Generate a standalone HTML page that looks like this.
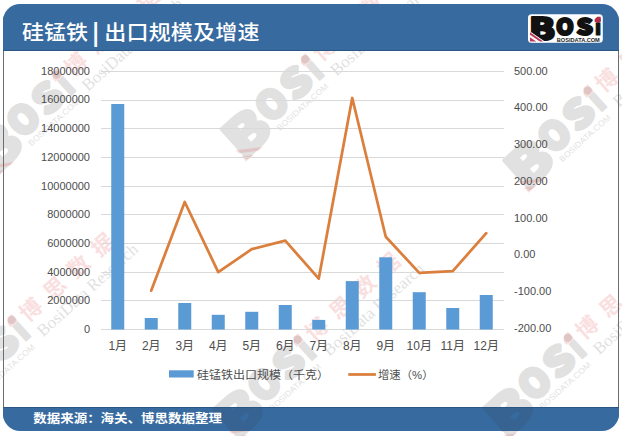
<!DOCTYPE html>
<html lang="zh-CN">
<head>
<meta charset="utf-8">
<title>硅锰铁 | 出口规模及增速</title>
<style>
html,body{margin:0;padding:0;background:#fff;}
body{width:622px;height:436px;overflow:hidden;position:relative;}
svg{position:absolute;left:0;top:0;display:block;}
</style>
</head>
<body>
<svg width="622" height="436" viewBox="0 0 622 436">
  <defs>
    <clipPath id="fr"><rect x="3" y="4" width="616" height="427" rx="17" ry="17"/></clipPath>
    <clipPath id="bands"><rect x="4" y="408" width="614" height="23"/></clipPath>
  </defs>
  <rect x="0" y="0" width="622" height="436" fill="#fff"/>
  <!-- watermarks -->
  <g transform="translate(56 75) rotate(-42)">
    <g transform="scale(1.65) translate(-597.6 -19.35)">
      <g opacity="0.23" fill="#808080">
        <g font-family="Noto Sans CJK SC Black, Noto Sans CJK SC, sans-serif" font-weight="900" fill="#808080" stroke="#808080" stroke-width="2.2" stroke-linejoin="round">
      <text x="529" y="40" font-size="31" textLength="26" lengthAdjust="spacingAndGlyphs">B</text>
      <text x="556" y="34.5" font-size="23" textLength="17.8" lengthAdjust="spacingAndGlyphs">O</text>
      <text x="576.5" y="34.5" font-size="23" textLength="16.5" lengthAdjust="spacingAndGlyphs">S</text>
      <text x="594.8" y="34.5" font-size="20.5" stroke-width="1">i</text>
    </g>
        <text x="557.5" y="41.5" font-family="Liberation Sans, sans-serif" font-size="5" textLength="40" lengthAdjust="spacingAndGlyphs">BOSIDATA.COM</text>
      </g>
      <g opacity="0.16" fill="#e03c3c">
        <polygon points="597.3,16.7 600.6,16.7 600.6,22.2 594.7,22.2 594.7,19.6"/>
        <polygon points="530,32.3 543.3,41.5 539.9,41.5 530,34.7"/>
        <polygon points="530,37.2 536.3,41.5 530,41.5"/>
      </g>
    </g>
    <g transform="scale(1.5) translate(-597.6 -19.35)">
      <text x="606" y="42" opacity="0.23" fill="#808080" font-family="Liberation Serif, serif" font-size="11.3">BosiData Research</text>
      <text x="605" y="28" opacity="0.16" fill="#e03c3c" font-family="Liberation Sans, Noto Sans CJK SC, sans-serif" font-weight="bold" font-size="14.5" letter-spacing="7">博思数据</text>
    </g>
  </g>
  <g transform="translate(304.5 59.8) rotate(-42)">
    <g transform="scale(1.65) translate(-597.6 -19.35)">
      <g opacity="0.23" fill="#808080">
        <g font-family="Noto Sans CJK SC Black, Noto Sans CJK SC, sans-serif" font-weight="900" fill="#808080" stroke="#808080" stroke-width="2.2" stroke-linejoin="round">
      <text x="529" y="40" font-size="31" textLength="26" lengthAdjust="spacingAndGlyphs">B</text>
      <text x="556" y="34.5" font-size="23" textLength="17.8" lengthAdjust="spacingAndGlyphs">O</text>
      <text x="576.5" y="34.5" font-size="23" textLength="16.5" lengthAdjust="spacingAndGlyphs">S</text>
      <text x="594.8" y="34.5" font-size="20.5" stroke-width="1">i</text>
    </g>
        <text x="557.5" y="41.5" font-family="Liberation Sans, sans-serif" font-size="5" textLength="40" lengthAdjust="spacingAndGlyphs">BOSIDATA.COM</text>
      </g>
      <g opacity="0.16" fill="#e03c3c">
        <polygon points="597.3,16.7 600.6,16.7 600.6,22.2 594.7,22.2 594.7,19.6"/>
        <polygon points="530,32.3 543.3,41.5 539.9,41.5 530,34.7"/>
        <polygon points="530,37.2 536.3,41.5 530,41.5"/>
      </g>
    </g>
    <g transform="scale(1.5) translate(-597.6 -19.35)">
      <text x="606" y="42" opacity="0.23" fill="#808080" font-family="Liberation Serif, serif" font-size="11.3">BosiData Research</text>
      <text x="605" y="28" opacity="0.16" fill="#e03c3c" font-family="Liberation Sans, Noto Sans CJK SC, sans-serif" font-weight="bold" font-size="14.5" letter-spacing="7">博思数据</text>
    </g>
  </g>
  <g transform="translate(587 91) rotate(-42)">
    <g transform="scale(1.65) translate(-597.6 -19.35)">
      <g opacity="0.23" fill="#808080">
        <g font-family="Noto Sans CJK SC Black, Noto Sans CJK SC, sans-serif" font-weight="900" fill="#808080" stroke="#808080" stroke-width="2.2" stroke-linejoin="round">
      <text x="529" y="40" font-size="31" textLength="26" lengthAdjust="spacingAndGlyphs">B</text>
      <text x="556" y="34.5" font-size="23" textLength="17.8" lengthAdjust="spacingAndGlyphs">O</text>
      <text x="576.5" y="34.5" font-size="23" textLength="16.5" lengthAdjust="spacingAndGlyphs">S</text>
      <text x="594.8" y="34.5" font-size="20.5" stroke-width="1">i</text>
    </g>
        <text x="557.5" y="41.5" font-family="Liberation Sans, sans-serif" font-size="5" textLength="40" lengthAdjust="spacingAndGlyphs">BOSIDATA.COM</text>
      </g>
      <g opacity="0.16" fill="#e03c3c">
        <polygon points="597.3,16.7 600.6,16.7 600.6,22.2 594.7,22.2 594.7,19.6"/>
        <polygon points="530,32.3 543.3,41.5 539.9,41.5 530,34.7"/>
        <polygon points="530,37.2 536.3,41.5 530,41.5"/>
      </g>
    </g>
    <g transform="scale(1.5) translate(-597.6 -19.35)">
      <text x="606" y="42" opacity="0.23" fill="#808080" font-family="Liberation Serif, serif" font-size="11.3">BosiData Research</text>
      <text x="605" y="28" opacity="0.16" fill="#e03c3c" font-family="Liberation Sans, Noto Sans CJK SC, sans-serif" font-weight="bold" font-size="14.5" letter-spacing="7">博思数据</text>
    </g>
  </g>
  <g transform="translate(11 320.5) rotate(-42)">
    <g transform="scale(1.65) translate(-597.6 -19.35)">
      <g opacity="0.23" fill="#808080">
        <g font-family="Noto Sans CJK SC Black, Noto Sans CJK SC, sans-serif" font-weight="900" fill="#808080" stroke="#808080" stroke-width="2.2" stroke-linejoin="round">
      <text x="529" y="40" font-size="31" textLength="26" lengthAdjust="spacingAndGlyphs">B</text>
      <text x="556" y="34.5" font-size="23" textLength="17.8" lengthAdjust="spacingAndGlyphs">O</text>
      <text x="576.5" y="34.5" font-size="23" textLength="16.5" lengthAdjust="spacingAndGlyphs">S</text>
      <text x="594.8" y="34.5" font-size="20.5" stroke-width="1">i</text>
    </g>
        <text x="557.5" y="41.5" font-family="Liberation Sans, sans-serif" font-size="5" textLength="40" lengthAdjust="spacingAndGlyphs">BOSIDATA.COM</text>
      </g>
      <g opacity="0.16" fill="#e03c3c">
        <polygon points="597.3,16.7 600.6,16.7 600.6,22.2 594.7,22.2 594.7,19.6"/>
        <polygon points="530,32.3 543.3,41.5 539.9,41.5 530,34.7"/>
        <polygon points="530,37.2 536.3,41.5 530,41.5"/>
      </g>
    </g>
    <g transform="scale(1.5) translate(-597.6 -19.35)">
      <text x="606" y="42" opacity="0.23" fill="#808080" font-family="Liberation Serif, serif" font-size="11.3">BosiData Research</text>
      <text x="605" y="28" opacity="0.16" fill="#e03c3c" font-family="Liberation Sans, Noto Sans CJK SC, sans-serif" font-weight="bold" font-size="14.5" letter-spacing="7">博思数据</text>
    </g>
  </g>
  <g transform="translate(297 340) rotate(-42)">
    <g transform="scale(1.65) translate(-597.6 -19.35)">
      <g opacity="0.23" fill="#808080">
        <g font-family="Noto Sans CJK SC Black, Noto Sans CJK SC, sans-serif" font-weight="900" fill="#808080" stroke="#808080" stroke-width="2.2" stroke-linejoin="round">
      <text x="529" y="40" font-size="31" textLength="26" lengthAdjust="spacingAndGlyphs">B</text>
      <text x="556" y="34.5" font-size="23" textLength="17.8" lengthAdjust="spacingAndGlyphs">O</text>
      <text x="576.5" y="34.5" font-size="23" textLength="16.5" lengthAdjust="spacingAndGlyphs">S</text>
      <text x="594.8" y="34.5" font-size="20.5" stroke-width="1">i</text>
    </g>
        <text x="557.5" y="41.5" font-family="Liberation Sans, sans-serif" font-size="5" textLength="40" lengthAdjust="spacingAndGlyphs">BOSIDATA.COM</text>
      </g>
      <g opacity="0.16" fill="#e03c3c">
        <polygon points="597.3,16.7 600.6,16.7 600.6,22.2 594.7,22.2 594.7,19.6"/>
        <polygon points="530,32.3 543.3,41.5 539.9,41.5 530,34.7"/>
        <polygon points="530,37.2 536.3,41.5 530,41.5"/>
      </g>
    </g>
    <g transform="scale(1.5) translate(-597.6 -19.35)">
      <text x="606" y="42" opacity="0.23" fill="#808080" font-family="Liberation Serif, serif" font-size="11.3">BosiData Research</text>
      <text x="605" y="28" opacity="0.16" fill="#e03c3c" font-family="Liberation Sans, Noto Sans CJK SC, sans-serif" font-weight="bold" font-size="14.5" letter-spacing="7">博思数据</text>
    </g>
  </g>
  <g transform="translate(567.2 338.4) rotate(-42)">
    <g transform="scale(1.65) translate(-597.6 -19.35)">
      <g opacity="0.23" fill="#808080">
        <g font-family="Noto Sans CJK SC Black, Noto Sans CJK SC, sans-serif" font-weight="900" fill="#808080" stroke="#808080" stroke-width="2.2" stroke-linejoin="round">
      <text x="529" y="40" font-size="31" textLength="26" lengthAdjust="spacingAndGlyphs">B</text>
      <text x="556" y="34.5" font-size="23" textLength="17.8" lengthAdjust="spacingAndGlyphs">O</text>
      <text x="576.5" y="34.5" font-size="23" textLength="16.5" lengthAdjust="spacingAndGlyphs">S</text>
      <text x="594.8" y="34.5" font-size="20.5" stroke-width="1">i</text>
    </g>
        <text x="557.5" y="41.5" font-family="Liberation Sans, sans-serif" font-size="5" textLength="40" lengthAdjust="spacingAndGlyphs">BOSIDATA.COM</text>
      </g>
      <g opacity="0.16" fill="#e03c3c">
        <polygon points="597.3,16.7 600.6,16.7 600.6,22.2 594.7,22.2 594.7,19.6"/>
        <polygon points="530,32.3 543.3,41.5 539.9,41.5 530,34.7"/>
        <polygon points="530,37.2 536.3,41.5 530,41.5"/>
      </g>
    </g>
    <g transform="scale(1.5) translate(-597.6 -19.35)">
      <text x="606" y="42" opacity="0.23" fill="#808080" font-family="Liberation Serif, serif" font-size="11.3">BosiData Research</text>
      <text x="605" y="28" opacity="0.16" fill="#e03c3c" font-family="Liberation Sans, Noto Sans CJK SC, sans-serif" font-weight="bold" font-size="14.5" letter-spacing="7">博思数据</text>
    </g>
  </g>
  <!-- header / footer -->
  <g clip-path="url(#fr)">
    <rect x="3" y="4" width="1" height="427" fill="#6b6e70"/>
    <rect x="618" y="4" width="1" height="427" fill="#6b6e70"/>
    <rect x="3" y="4" width="616" height="47" fill="#376a9e"/>
    <rect x="3" y="50" width="616" height="1" fill="#2b5683"/>
    <rect x="3" y="407" width="616" height="24" fill="#376a9e"/>
    <rect x="3" y="407" width="616" height="1" fill="#2b5683"/>
  </g>
  <g clip-path="url(#bands)">
  <g transform="translate(56 75) rotate(-42) scale(1.65) translate(-597.6 -19.35)" opacity="0.1" fill="#303030">
    <g font-family="Noto Sans CJK SC Black, Noto Sans CJK SC, sans-serif" font-weight="900" fill="#303030" stroke="#303030" stroke-width="2.2" stroke-linejoin="round">
      <text x="529" y="40" font-size="31" textLength="26" lengthAdjust="spacingAndGlyphs">B</text>
      <text x="556" y="34.5" font-size="23" textLength="17.8" lengthAdjust="spacingAndGlyphs">O</text>
      <text x="576.5" y="34.5" font-size="23" textLength="16.5" lengthAdjust="spacingAndGlyphs">S</text>
      <text x="594.8" y="34.5" font-size="20.5" stroke-width="1">i</text>
    </g>
  </g>
  <g transform="translate(304.5 59.8) rotate(-42) scale(1.65) translate(-597.6 -19.35)" opacity="0.1" fill="#303030">
    <g font-family="Noto Sans CJK SC Black, Noto Sans CJK SC, sans-serif" font-weight="900" fill="#303030" stroke="#303030" stroke-width="2.2" stroke-linejoin="round">
      <text x="529" y="40" font-size="31" textLength="26" lengthAdjust="spacingAndGlyphs">B</text>
      <text x="556" y="34.5" font-size="23" textLength="17.8" lengthAdjust="spacingAndGlyphs">O</text>
      <text x="576.5" y="34.5" font-size="23" textLength="16.5" lengthAdjust="spacingAndGlyphs">S</text>
      <text x="594.8" y="34.5" font-size="20.5" stroke-width="1">i</text>
    </g>
  </g>
  <g transform="translate(587 91) rotate(-42) scale(1.65) translate(-597.6 -19.35)" opacity="0.1" fill="#303030">
    <g font-family="Noto Sans CJK SC Black, Noto Sans CJK SC, sans-serif" font-weight="900" fill="#303030" stroke="#303030" stroke-width="2.2" stroke-linejoin="round">
      <text x="529" y="40" font-size="31" textLength="26" lengthAdjust="spacingAndGlyphs">B</text>
      <text x="556" y="34.5" font-size="23" textLength="17.8" lengthAdjust="spacingAndGlyphs">O</text>
      <text x="576.5" y="34.5" font-size="23" textLength="16.5" lengthAdjust="spacingAndGlyphs">S</text>
      <text x="594.8" y="34.5" font-size="20.5" stroke-width="1">i</text>
    </g>
  </g>
  <g transform="translate(11 320.5) rotate(-42) scale(1.65) translate(-597.6 -19.35)" opacity="0.1" fill="#303030">
    <g font-family="Noto Sans CJK SC Black, Noto Sans CJK SC, sans-serif" font-weight="900" fill="#303030" stroke="#303030" stroke-width="2.2" stroke-linejoin="round">
      <text x="529" y="40" font-size="31" textLength="26" lengthAdjust="spacingAndGlyphs">B</text>
      <text x="556" y="34.5" font-size="23" textLength="17.8" lengthAdjust="spacingAndGlyphs">O</text>
      <text x="576.5" y="34.5" font-size="23" textLength="16.5" lengthAdjust="spacingAndGlyphs">S</text>
      <text x="594.8" y="34.5" font-size="20.5" stroke-width="1">i</text>
    </g>
  </g>
  <g transform="translate(297 340) rotate(-42) scale(1.65) translate(-597.6 -19.35)" opacity="0.1" fill="#303030">
    <g font-family="Noto Sans CJK SC Black, Noto Sans CJK SC, sans-serif" font-weight="900" fill="#303030" stroke="#303030" stroke-width="2.2" stroke-linejoin="round">
      <text x="529" y="40" font-size="31" textLength="26" lengthAdjust="spacingAndGlyphs">B</text>
      <text x="556" y="34.5" font-size="23" textLength="17.8" lengthAdjust="spacingAndGlyphs">O</text>
      <text x="576.5" y="34.5" font-size="23" textLength="16.5" lengthAdjust="spacingAndGlyphs">S</text>
      <text x="594.8" y="34.5" font-size="20.5" stroke-width="1">i</text>
    </g>
  </g>
  <g transform="translate(567.2 338.4) rotate(-42) scale(1.65) translate(-597.6 -19.35)" opacity="0.1" fill="#303030">
    <g font-family="Noto Sans CJK SC Black, Noto Sans CJK SC, sans-serif" font-weight="900" fill="#303030" stroke="#303030" stroke-width="2.2" stroke-linejoin="round">
      <text x="529" y="40" font-size="31" textLength="26" lengthAdjust="spacingAndGlyphs">B</text>
      <text x="556" y="34.5" font-size="23" textLength="17.8" lengthAdjust="spacingAndGlyphs">O</text>
      <text x="576.5" y="34.5" font-size="23" textLength="16.5" lengthAdjust="spacingAndGlyphs">S</text>
      <text x="594.8" y="34.5" font-size="20.5" stroke-width="1">i</text>
    </g>
  </g>
  </g>
  <g font-family="Liberation Sans, Noto Sans CJK SC, sans-serif" font-size="22" font-weight="500" fill="#fff" transform="translate(0 40) scale(1 0.92) translate(0 -40)">
    <text x="22" y="40">硅锰铁</text>
    <text x="104.3" y="40" letter-spacing="0.2">出口规模及增速</text>
  </g>
  <text x="91.3" y="41.1" font-family="DejaVu Sans, sans-serif" font-weight="bold" font-size="24" fill="#fff">|</text>
  <text x="33.2" y="423" font-family="Liberation Sans, Noto Sans CJK SC, sans-serif" font-size="13.5" font-weight="bold" fill="#fff" transform="translate(0 423) scale(1 0.9) translate(0 -423)">数据来源：海关、博思数据整理</text>
  <!-- logo -->
  <rect x="528" y="14.2" width="74.8" height="28.6" rx="3.5" fill="#fff"/>
  <g font-family="Noto Sans CJK SC Black, Noto Sans CJK SC, sans-serif" font-weight="900" fill="#111" stroke="#111" stroke-width="2.2" stroke-linejoin="round">
      <text x="529" y="40" font-size="31" textLength="26" lengthAdjust="spacingAndGlyphs">B</text>
      <text x="556" y="34.5" font-size="23" textLength="17.8" lengthAdjust="spacingAndGlyphs">O</text>
      <text x="576.5" y="34.5" font-size="23" textLength="16.5" lengthAdjust="spacingAndGlyphs">S</text>
      <text x="594.8" y="34.5" font-size="20.5" stroke-width="1">i</text>
    </g>
  <polygon points="597.3,16.7 600.6,16.7 600.6,22.2 594.7,22.2 594.7,19.6" fill="#b52b44"/>
  <polygon points="529.5,30.9 546,42.3 529.5,42.3" fill="#fff"/>
  <polygon points="530,32.3 543.3,41.5 539.9,41.5 530,34.7" fill="#c0395a"/>
  <polygon points="530,37.2 536.3,41.5 530,41.5" fill="#c0395a"/>
  <text x="556.8" y="41.5" font-family="Liberation Sans, sans-serif" font-weight="bold" font-size="5.6" fill="#222" textLength="43" lengthAdjust="spacingAndGlyphs">BOSIDATA.COM</text>
  <g fill="#d9d9d9">
    <rect x="101" y="71" width="403" height="1"/>
    <rect x="101" y="100" width="403" height="1"/>
    <rect x="101" y="128" width="403" height="1"/>
    <rect x="101" y="157" width="403" height="1"/>
    <rect x="101" y="186" width="403" height="1"/>
    <rect x="101" y="214" width="403" height="1"/>
    <rect x="101" y="243" width="403" height="1"/>
    <rect x="101" y="272" width="403" height="1"/>
    <rect x="101" y="300" width="403" height="1"/>
    <rect x="101" y="329" width="403" height="1"/>
  </g>
  <g fill="#5b9bd5">
    <rect x="111.25" y="104" width="13" height="225.5"/>
    <rect x="144.75" y="318" width="13" height="11.5"/>
    <rect x="178.25" y="303" width="13" height="26.5"/>
    <rect x="211.75" y="314.8" width="13" height="14.7"/>
    <rect x="245.25" y="311.8" width="13" height="17.7"/>
    <rect x="278.75" y="305" width="13" height="24.5"/>
    <rect x="312.25" y="319.9" width="13" height="9.6"/>
    <rect x="345.75" y="281.1" width="13" height="48.4"/>
    <rect x="379.25" y="257.3" width="13" height="72.2"/>
    <rect x="412.75" y="292.2" width="13" height="37.3"/>
    <rect x="446.25" y="308" width="13" height="21.5"/>
    <rect x="479.75" y="295" width="13" height="34.5"/>
  </g>
  <polyline fill="none" stroke="#db7f3d" stroke-width="2.75" stroke-linejoin="round" stroke-linecap="round" points="151.25,290.6 184.75,202 218.25,272.1 251.75,249.2 285.25,240.7 318.75,278.6 352.25,98 385.75,236.7 419.25,272.9 452.75,271.1 486.25,233.2"/>
  <g font-family="Liberation Sans, sans-serif" font-size="11" fill="#4d4d4d" text-anchor="end">
    <text x="90" y="74.7">18000000</text>
    <text x="90" y="103.4">16000000</text>
    <text x="90" y="132.1">14000000</text>
    <text x="90" y="160.8">12000000</text>
    <text x="90" y="189.5">10000000</text>
    <text x="90" y="218.2">8000000</text>
    <text x="90" y="246.8">6000000</text>
    <text x="90" y="275.5">4000000</text>
    <text x="90" y="304.2">2000000</text>
    <text x="90" y="332.9">0</text>
  </g>
  <g font-family="Liberation Sans, sans-serif" font-size="11" fill="#4d4d4d">
    <text x="514" y="74.7">500.00</text>
    <text x="514" y="111.4">400.00</text>
    <text x="514" y="148.2">300.00</text>
    <text x="514" y="184.9">200.00</text>
    <text x="514" y="221.6">100.00</text>
    <text x="514" y="258.3">0.00</text>
    <text x="514" y="295.1">-100.00</text>
    <text x="514" y="331.8">-200.00</text>
  </g>
  <g font-family="Liberation Sans, Noto Sans CJK SC, sans-serif" font-size="12" fill="#4d4d4d" text-anchor="middle">
    <text x="117.75" y="349.7">1月</text>
    <text x="151.25" y="349.7">2月</text>
    <text x="184.75" y="349.7">3月</text>
    <text x="218.25" y="349.7">4月</text>
    <text x="251.75" y="349.7">5月</text>
    <text x="285.25" y="349.7">6月</text>
    <text x="318.75" y="349.7">7月</text>
    <text x="352.25" y="349.7">8月</text>
    <text x="385.75" y="349.7">9月</text>
    <text x="419.25" y="349.7">10月</text>
    <text x="452.75" y="349.7">11月</text>
    <text x="486.25" y="349.7">12月</text>
  </g>
  <rect x="169" y="370.3" width="24.7" height="7.2" fill="#5b9bd5"/>
  <text x="197" y="379" font-family="Liberation Sans, Noto Sans CJK SC, sans-serif" font-size="12" fill="#4d4d4d" transform="translate(0 379) scale(1 0.9) translate(0 -379)">硅锰铁出口规模（千克）</text>
  <rect x="348.3" y="373.1" width="27.6" height="2.75" fill="#db7f3d"/>
  <text x="378" y="379" font-family="Liberation Sans, Noto Sans CJK SC, sans-serif" font-size="12" fill="#4d4d4d" transform="translate(0 379) scale(1 0.9) translate(0 -379)" textLength="55.5" lengthAdjust="spacingAndGlyphs">增速（%）</text>
</svg>
</body>
</html>
